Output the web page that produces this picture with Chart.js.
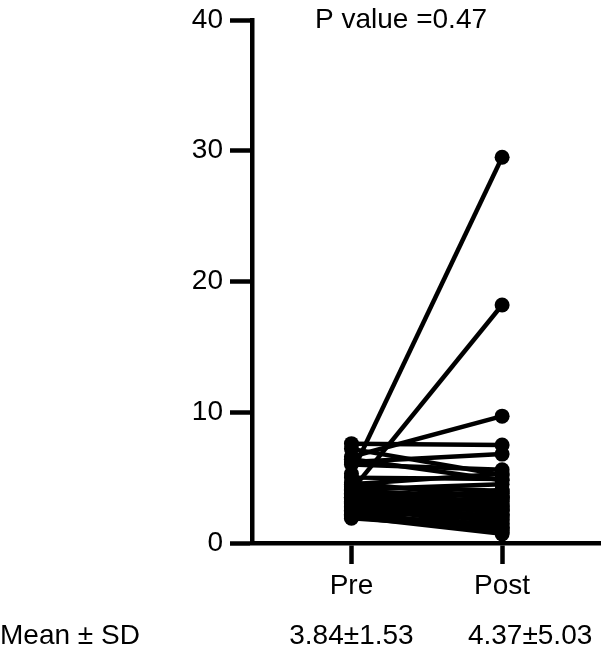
<!DOCTYPE html>
<html>
<head>
<meta charset="utf-8">
<style>
  html, body { margin: 0; padding: 0; background: #fff; }
</style>
</head>
<body>
<canvas id="pairChart" width="608" height="656"></canvas>
<script src="https://cdn.jsdelivr.net/npm/chart.js@4.4.1/dist/chart.umd.min.js"></script>
<script>
// Giá trị (mỗi cặp Pre -> Post)
const groups = ['Pre', 'Post'];
const preValues = [5.3, 4.0, 6.6, 7.6, 6.2, 7.2, 6.0, 5.0, 4.5, 4.1,
                   3.6, 4.6, 3.5, 4.3, 4.2, 4.0, 3.9, 3.8, 3.7, 3.6,
                   3.5, 3.4, 3.3, 3.2, 3.1, 3.0, 2.9, 2.8, 2.7, 2.6,
                   2.5, 2.4, 2.3, 2.2, 2.1, 2.0, 1.9, 6.4, 3.0, 2.6];
const postValues = [29.5, 18.2, 9.7, 7.5, 6.8, 5.2, 5.6, 4.9, 5.3, 4.5,
                    3.8, 3.4, 3.2, 4.0, 2.6, 3.5, 2.9, 3.6, 2.2, 3.0,
                    1.8, 2.7, 3.9, 2.4, 1.5, 2.0, 3.3, 1.2, 2.5, 1.7,
                    4.1, 1.0, 2.1, 0.8, 1.4, 0.7, 1.1, 4.8, 2.8, 3.6];
const yTicks = [0, 10, 20, 30, 40];
const meanSd = ['3.84±1.53', '4.37±5.03'];
const pValueText = 'P value =0.47';

const FONT = 'Liberation Sans, Arial, Helvetica, sans-serif';

const datasets = preValues.map((pre, i) => ({
    data: [{ x: 0, y: pre }, { x: 1, y: postValues[i] }],
    borderColor: '#000',
    backgroundColor: '#000',
    borderWidth: 4.5,
    pointRadius: 7.5,
    pointBorderWidth: 0,
    clip: false
}));

// Vẽ chữ P value và hàng Mean ± SD
const textPlugin = {
    id: 'extraText',
    afterDraw(chart) {
        const ctx = chart.ctx;
        const x = chart.scales.x;
        ctx.save();
        ctx.fillStyle = '#000';
        ctx.font = '28px ' + FONT;
        ctx.textBaseline = 'middle';
        ctx.textAlign = 'left';
        ctx.fillText(pValueText, 315, 20);
        ctx.fillText('Mean ± SD', 0, 636);
        ctx.textAlign = 'center';
        ctx.fillText(meanSd[0], x.getPixelForValue(0), 636);
        ctx.fillText(meanSd[1], x.getPixelForValue(1) + 28, 636);
        ctx.restore();
    }
};

new Chart(document.getElementById('pairChart'), {
    type: 'line',
    data: { datasets },
    options: {
        responsive: false,
        animation: false,
        layout: { padding: { top: 20, right: 5, bottom: 0, left: 0 } },
        plugins: { legend: { display: false }, tooltip: { enabled: false } },
        scales: {
            x: {
                type: 'linear',
                min: -0.66,
                max: 1.653,
                afterBuildTicks: s => { s.ticks = [{ value: 0 }, { value: 1 }]; },
                afterFit: s => { s.height = 113; },
                grid: { drawOnChartArea: false, drawTicks: true, tickLength: 21, tickWidth: 4.5, tickColor: '#000' },
                border: { color: '#000', width: 4.5 },
                ticks: {
                    color: '#000',
                    font: { size: 28, family: FONT },
                    padding: 5,
                    maxRotation: 0,
                    callback: v => groups[v]
                }
            },
            y: {
                min: 0,
                max: 40,
                afterBuildTicks: s => { s.ticks = yTicks.map(v => ({ value: v })); },
                afterFit: s => { s.width = 252; s.paddingTop = 0; },
                grid: { drawOnChartArea: false, drawTicks: true, tickLength: 22, tickWidth: 4.5, tickColor: '#000' },
                border: { color: '#000', width: 4.5 },
                ticks: {
                    color: '#000',
                    font: { size: 28, family: FONT, lineHeight: 1 },
                    padding: 7
                }
            }
        }
    },
    plugins: [textPlugin]
});
</script>
</body>
</html>
